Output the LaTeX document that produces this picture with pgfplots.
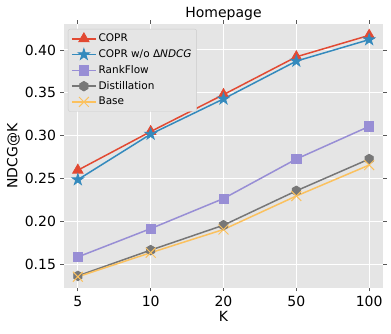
\documentclass[border=0pt]{standalone}
\usepackage{pgfplots}
\pgfplotsset{compat=1.18}
\usepackage{fontspec}
\setmainfont{DejaVu Sans}
\usetikzlibrary{plotmarks}
\definecolor{cRed}{HTML}{E24A33}
\definecolor{cBlue}{HTML}{348ABD}
\definecolor{cPurple}{HTML}{988ED5}
\definecolor{cGray}{HTML}{777777}
\definecolor{cYellow}{HTML}{FBC15E}
\definecolor{bgGray}{HTML}{E5E5E5}
\definecolor{legEdge}{HTML}{CCCCCC}
\pgfdeclareplotmark{fstar}{%
  \pgfpathmoveto{\pgfqpointpolar{90}{\pgfplotmarksize}}%
  \pgfpathlineto{\pgfqpointpolar{126}{0.382\pgfplotmarksize}}%
  \pgfpathlineto{\pgfqpointpolar{162}{\pgfplotmarksize}}%
  \pgfpathlineto{\pgfqpointpolar{198}{0.382\pgfplotmarksize}}%
  \pgfpathlineto{\pgfqpointpolar{234}{\pgfplotmarksize}}%
  \pgfpathlineto{\pgfqpointpolar{270}{0.382\pgfplotmarksize}}%
  \pgfpathlineto{\pgfqpointpolar{306}{\pgfplotmarksize}}%
  \pgfpathlineto{\pgfqpointpolar{342}{0.382\pgfplotmarksize}}%
  \pgfpathlineto{\pgfqpointpolar{18}{\pgfplotmarksize}}%
  \pgfpathlineto{\pgfqpointpolar{54}{0.382\pgfplotmarksize}}%
  \pgfpathclose
  \pgfusepathqfillstroke}
\pgfdeclareplotmark{fhex}{%
  \pgfpathmoveto{\pgfqpointpolar{90}{\pgfplotmarksize}}%
  \pgfpathlineto{\pgfqpointpolar{150}{\pgfplotmarksize}}%
  \pgfpathlineto{\pgfqpointpolar{210}{\pgfplotmarksize}}%
  \pgfpathlineto{\pgfqpointpolar{270}{\pgfplotmarksize}}%
  \pgfpathlineto{\pgfqpointpolar{330}{\pgfplotmarksize}}%
  \pgfpathlineto{\pgfqpointpolar{30}{\pgfplotmarksize}}%
  \pgfpathclose
  \pgfusepathqfillstroke}
\begin{document}
\begin{tikzpicture}
\path[use as bounding box] (-64pt,-46pt) rectangle (327pt,288pt);
\begin{axis}[
  at={(0pt,0pt)}, anchor=south west,
  scale only axis, width=319pt, height=264pt,
  xmin=-0.19, xmax=4.19, ymin=0.1229, ymax=0.4302,
  xtick={0,1,2,3,4}, xticklabels={5,10,20,50,100},
  ytick={0.15,0.20,0.25,0.30,0.35,0.40},
  yticklabel style={/pgf/number format/fixed,/pgf/number format/fixed zerofill,/pgf/number format/precision=2},
  /pgf/number format/assume math mode=true,
  axis background/.style={fill=bgGray},
  axis line style={draw=none},
  grid=major, major grid style={white, line width=1pt},
  tick align=outside, major tick length=3.5pt,
  tick style={color=black!65, line width=0.8pt},
  ticklabel style={font=\fontsize{14}{16}\selectfont},
  xticklabel style={yshift=-1pt},
  yticklabel style={xshift=-1pt},
  xlabel={K}, ylabel={NDCG@K},
  label style={font=\fontsize{14}{16}\selectfont},
  xlabel style={yshift=2pt},
  ylabel style={yshift=-2pt},
  title={Homepage},
  title style={font=\fontsize{14}{16}\selectfont, at={(0.5,1)}, anchor=south, inner sep=0pt, yshift=-2.3pt},
  legend cell align=left,
  legend style={at={(axis description cs:0,1)}, anchor=north west, xshift=4pt, yshift=-5pt,
    fill=bgGray, draw=legEdge, rounded corners=2pt,
    font=\fontsize{10.5}{12}\selectfont, row sep=2.4pt, inner xsep=3pt, inner ysep=3pt},
  legend image code/.code={\draw[mark repeat=2,mark phase=2] plot coordinates {(0cm,0cm)(0.42cm,0cm)(0.84cm,0cm)};},
  every axis plot/.append style={line width=1.5pt},
]
\addplot[color=cRed, mark=triangle*, mark size=6pt, mark options={fill=cRed, line width=0.8pt}]
  coordinates {(0,0.260) (1,0.305) (2,0.348) (3,0.392) (4,0.417)};
\addlegendentry{COPR}
\addplot[color=cBlue, mark=fstar, mark size=6pt, mark options={fill=cBlue, line width=0.8pt}]
  coordinates {(0,0.249) (1,0.302) (2,0.343) (3,0.387) (4,0.412)};
\addlegendentry{COPR w/o Δ\textit{NDCG}}
\addplot[color=cPurple, mark=square*, mark size=4.6pt, mark options={fill=cPurple, line width=0.8pt}]
  coordinates {(0,0.159) (1,0.192) (2,0.227) (3,0.273) (4,0.311)};
\addlegendentry{RankFlow}
\addplot[color=cGray, mark=fhex, mark size=4.8pt, mark options={fill=cGray, line width=0.8pt}]
  coordinates {(0,0.137) (1,0.167) (2,0.196) (3,0.236) (4,0.273)};
\addlegendentry{Distillation}
\addplot[color=cYellow, mark=x, mark size=7pt, mark options={line width=1pt}]
  coordinates {(0,0.136) (1,0.164) (2,0.191) (3,0.230) (4,0.266)};
\addlegendentry{Base}
\end{axis}
\end{tikzpicture}
\end{document}
